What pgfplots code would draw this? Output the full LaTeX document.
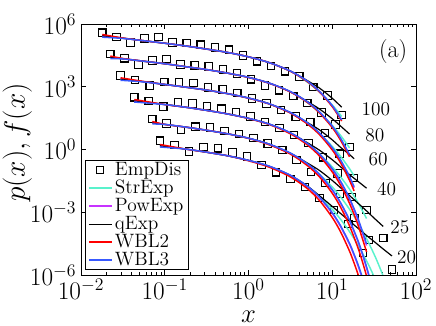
\RequirePackage{fix-cm}
\documentclass[border=0pt]{standalone}
\usepackage{pgfplots}
\pgfplotsset{compat=1.18}
\definecolor{cStr}{rgb}{0.35,0.95,0.8}
\definecolor{cPow}{rgb}{0.78,0.2,1}
\definecolor{cWtwo}{rgb}{1,0,0}
\definecolor{cWthree}{rgb}{0.22,0.35,1}
\pgfplotsset{
  table/lg/.style={x expr={10^(\thisrowno{0})}, y expr={10^(\thisrowno{1})}, row sep=\\},
  emp/.style={only marks, mark=square, mark size=2.8pt, mark options={line width=0.85pt, black}},
  fit/.style={line width=1.1pt, smooth, no marks},
}
\begin{document}
\begin{tikzpicture}
\begin{axis}[
  scale only axis, width=251.25pt, height=188.25pt,
  xmode=log, ymode=log,
  xmin=1e-2, xmax=1e2, ymin=1e-6, ymax=1e6,
  xtick={1e-2,1e-1,1,1e1,1e2},
  ytick={1e-6,1e-3,1,1e3,1e6},
  yminorticks=false,
  tick align=inside,
  major tick length=3.5pt, minor tick length=2pt,
  tick style={black, line width=0.5pt},
  axis line style={line width=0.7pt},
  ticklabel style={font=\fontsize{19}{19}\selectfont},
  xticklabel style={yshift=-1.5pt, inner ysep=1pt},
  xlabel={$x$}, ylabel={$p(x), f(x)$},
  every axis x label/.style={at={(axis description cs:0.5,-0.166)}, anchor=center, inner sep=0pt, font=\fontsize{20}{20}\selectfont},
  every axis y label/.style={at={(axis description cs:-0.19,0.528)}, anchor=center, rotate=90, font=\fontsize{22}{22}\selectfont},
  clip mode=individual,
  legend cell align=left,
  legend style={at={(rel axis cs:0.012,0.02)}, anchor=south west, draw=black, line width=0.6pt,
    fill=white, font=\fontsize{14.5}{14.5}\selectfont, inner xsep=2pt, inner ysep=0.5pt, row sep=0.3pt,
    nodes={inner xsep=2pt, inner ysep=0pt, text height=10.3pt, text depth=2.9pt}},
]
% empirical distributions
\addplot[emp] table[lg] {-1.746 5.58\\-1.578 5.38\\-1.410 5.11\\-1.242 5.32\\-1.074 5.37\\-0.906 5.12\\-0.738 5.09\\-0.570 5.01\\-0.402 4.88\\-0.234 4.77\\-0.066 4.49\\0.102 4.22\\0.270 3.99\\0.438 3.74\\0.606 3.49\\0.774 2.99\\0.942 2.58\\1.110 1.65\\};
\addlegendentry{EmpDis}
\addplot[emp, forget plot] table[lg] {-1.650 4.57\\-1.482 4.36\\-1.314 4.06\\-1.146 4.26\\-0.978 4.32\\-0.810 4.06\\-0.642 4.03\\-0.474 3.97\\-0.306 3.82\\-0.138 3.64\\0.030 3.36\\0.198 3.06\\0.366 2.83\\0.534 2.56\\0.702 2.22\\0.870 1.77\\1.038 1.20\\1.206 0.12\\};
\addplot[emp, forget plot] table[lg] {-1.528 3.54\\-1.354 3.33\\-1.179 3.05\\-1.005 3.22\\-0.831 3.21\\-0.656 3.17\\-0.482 2.96\\-0.308 2.87\\-0.134 2.70\\0.041 2.44\\0.215 2.20\\0.389 1.89\\0.564 1.58\\0.738 1.32\\0.912 0.79\\1.087 -0.20\\1.261 -1.36\\};
\addplot[emp, forget plot] table[lg] {-1.364 2.50\\-1.191 2.31\\-1.017 2.05\\-0.844 2.24\\-0.670 2.20\\-0.497 2.07\\-0.324 1.95\\-0.150 1.79\\0.023 1.58\\0.197 1.32\\0.370 1.03\\0.543 0.69\\0.717 0.31\\0.890 -0.37\\1.064 -1.14\\1.237 -2.28\\1.410 -2.89\\};
\addplot[emp, forget plot] table[lg] {-1.149 1.46\\-0.977 1.25\\-0.804 0.93\\-0.632 1.09\\-0.459 1.05\\-0.287 0.89\\-0.115 0.74\\0.058 0.55\\0.230 0.29\\0.403 -0.02\\0.575 -0.50\\0.747 -1.08\\0.920 -1.60\\1.092 -2.13\\1.265 -3.27\\1.437 -4.33\\1.609 -4.24\\};
\addplot[emp, forget plot] table[lg] {-1.057 0.42\\-0.884 0.22\\-0.711 -0.10\\-0.538 0.11\\-0.364 0.06\\-0.191 -0.15\\-0.018 -0.34\\0.155 -0.74\\0.328 -1.09\\0.501 -1.41\\0.674 -1.79\\0.847 -2.32\\1.020 -2.89\\1.193 -3.56\\1.367 -4.95\\1.713 -5.74\\};
% StrExp
\addplot[fit, cStr] table[lg] {-1.746 5.44\\-1.5 5.32\\-1.25 5.20\\-1.0 5.08\\-0.75 4.95\\-0.5 4.80\\-0.25 4.64\\0 4.43\\0.25 4.15\\0.5 3.75\\0.7 3.23\\0.85 2.74\\1.0 2.13\\1.113 1.58\\};
\addlegendentry{StrExp}
\addplot[fit, cStr, forget plot] table[lg] {-1.65 4.41\\-1.5 4.34\\-1.25 4.22\\-1.0 4.10\\-0.75 3.96\\-0.5 3.82\\-0.25 3.65\\0 3.45\\0.25 3.17\\0.5 2.76\\0.7 2.25\\0.85 1.75\\1.0 1.15\\1.1 0.67\\1.206 0.08\\};
\addplot[fit, cStr, forget plot] table[lg] {-1.528 3.37\\-1.25 3.24\\-1.0 3.11\\-0.75 2.98\\-0.5 2.84\\-0.25 2.67\\0 2.46\\0.25 2.18\\0.5 1.76\\0.7 1.25\\0.85 0.75\\1.0 0.15\\1.1 -0.33\\1.2 -0.88\\1.261 -1.26\\};
\addplot[fit, cStr, forget plot] table[lg] {-1.364 2.33\\-1.0 2.15\\-0.75 2.02\\-0.5 1.87\\-0.25 1.70\\0 1.49\\0.25 1.21\\0.5 0.79\\0.7 0.27\\0.85 -0.22\\1.0 -0.83\\1.1 -1.31\\1.2 -1.86\\1.3 -2.49\\1.41 -3.30\\};
\addplot[fit, cStr, forget plot] table[lg] {-1.149 1.28\\-1.0 1.20\\-0.75 1.07\\-0.5 0.92\\-0.25 0.75\\0 0.54\\0.25 0.25\\0.5 -0.18\\0.7 -0.69\\0.85 -1.19\\1.0 -1.79\\1.1 -2.27\\1.2 -2.82\\1.3 -3.45\\1.4 -4.18\\1.5 -5.01\\1.55 -5.47\\1.609 -6.06\\};
\addplot[fit, cStr, forget plot] table[lg] {-1.057 0.18\\-0.75 0.02\\-0.5 -0.13\\-0.25 -0.30\\0 -0.52\\0.25 -0.81\\0.5 -1.24\\0.7 -1.76\\0.85 -2.25\\1.0 -2.86\\1.1 -3.34\\1.2 -3.89\\1.3 -4.52\\1.4 -5.25\\1.45 -5.65\\1.5 -6.08\\1.55 -6.54\\};
% PowExp
\addplot[fit, cPow] table[lg] {-1.746 5.44\\-1.5 5.32\\-1.25 5.20\\-1.0 5.08\\-0.75 4.95\\-0.5 4.80\\-0.25 4.64\\0 4.43\\0.25 4.15\\0.5 3.75\\0.7 3.27\\0.85 2.76\\1.0 2.08\\1.113 1.40\\};
\addlegendentry{PowExp}
\addplot[fit, cPow, forget plot] table[lg] {-1.65 4.41\\-1.5 4.34\\-1.25 4.22\\-1.0 4.10\\-0.75 3.96\\-0.5 3.82\\-0.25 3.65\\0 3.45\\0.25 3.17\\0.5 2.76\\0.7 2.28\\0.85 1.78\\1.0 1.10\\1.1 0.51\\1.206 -0.27\\};
\addplot[fit, cPow, forget plot] table[lg] {-1.528 3.37\\-1.25 3.24\\-1.0 3.11\\-0.75 2.98\\-0.5 2.84\\-0.25 2.67\\0 2.46\\0.25 2.18\\0.5 1.76\\0.7 1.27\\0.85 0.76\\1.0 0.06\\1.1 -0.54\\1.2 -1.29\\1.261 -1.83\\};
\addplot[fit, cPow, forget plot] table[lg] {-1.364 2.33\\-1.0 2.15\\-0.75 2.02\\-0.5 1.87\\-0.25 1.70\\0 1.49\\0.25 1.21\\0.5 0.79\\0.7 0.29\\0.85 -0.24\\1.0 -0.95\\1.1 -1.56\\1.2 -2.33\\1.3 -3.28\\1.41 -4.59\\};
\addplot[fit, cPow, forget plot] table[lg] {-1.149 1.28\\-1.0 1.20\\-0.75 1.07\\-0.5 0.92\\-0.25 0.75\\0 0.54\\0.25 0.25\\0.5 -0.18\\0.7 -0.68\\0.85 -1.22\\1.0 -1.94\\1.1 -2.57\\1.2 -3.35\\1.3 -4.32\\1.35 -4.89\\1.4 -5.53\\1.45 -6.24\\1.5 -7.04\\};
\addplot[fit, cPow, forget plot] table[lg] {-1.057 0.18\\-0.75 0.02\\-0.5 -0.13\\-0.25 -0.30\\0 -0.52\\0.25 -0.81\\0.5 -1.24\\0.7 -1.76\\0.85 -2.31\\1.0 -3.05\\1.1 -3.69\\1.2 -4.48\\1.25 -4.95\\1.3 -5.47\\1.35 -6.06\\1.4 -6.71\\};
% qExp
\addplot[fit, black, line width=0.9pt] table[lg] {-1.746 5.44\\-1.5 5.32\\-1.25 5.20\\-1.0 5.08\\-0.75 4.95\\-0.5 4.80\\-0.25 4.64\\0 4.43\\0.25 4.15\\0.5 3.75\\0.7 3.30\\0.85 2.93\\1.0 2.45\\1.113 2.02\\};
\addlegendentry{qExp}
\addplot[fit, black, line width=0.9pt, forget plot] table[lg] {-1.65 4.41\\-1.5 4.34\\-1.25 4.22\\-1.0 4.10\\-0.75 3.96\\-0.5 3.82\\-0.25 3.65\\0 3.45\\0.25 3.17\\0.5 2.76\\0.7 2.30\\0.85 1.93\\1.0 1.47\\1.1 1.12\\1.206 0.74\\};
\addplot[fit, black, line width=0.9pt, forget plot] table[lg] {-1.528 3.37\\-1.25 3.24\\-1.0 3.11\\-0.75 2.98\\-0.5 2.84\\-0.25 2.67\\0 2.46\\0.25 2.18\\0.5 1.76\\0.7 1.30\\0.85 0.93\\1.0 0.46\\1.1 0.10\\1.2 -0.22\\1.261 -0.44\\};
\addplot[fit, black, line width=0.9pt, forget plot] table[lg] {-1.364 2.33\\-1.0 2.15\\-0.75 2.02\\-0.5 1.87\\-0.25 1.70\\0 1.49\\0.25 1.21\\0.5 0.79\\0.7 0.33\\0.85 -0.04\\1.0 -0.49\\1.1 -0.83\\1.2 -1.18\\1.3 -1.50\\1.41 -1.85\\};
\addplot[fit, black, line width=0.9pt, forget plot] table[lg] {-1.149 1.28\\-1.0 1.20\\-0.75 1.07\\-0.5 0.92\\-0.25 0.75\\0 0.54\\0.25 0.25\\0.5 -0.18\\0.7 -0.64\\0.85 -1.01\\1.0 -1.48\\1.1 -1.83\\1.2 -2.18\\1.3 -2.54\\1.4 -2.90\\1.5 -3.28\\1.609 -3.68\\};
\addplot[fit, black, line width=0.9pt, forget plot] table[lg] {-1.057 0.18\\-0.75 0.02\\-0.5 -0.13\\-0.25 -0.30\\0 -0.52\\0.25 -0.81\\0.5 -1.24\\0.7 -1.74\\0.85 -2.22\\1.0 -2.72\\1.1 -3.06\\1.2 -3.40\\1.3 -3.74\\1.4 -4.08\\1.5 -4.40\\1.6 -4.73\\1.713 -5.09\\};
% WBL2
\addplot[fit, cWtwo] table[lg] {-1.746 5.50\\-1.5 5.33\\-1.25 5.20\\-1.0 5.08\\-0.75 4.95\\-0.5 4.80\\-0.25 4.64\\0 4.43\\0.25 4.15\\0.5 3.74\\0.7 3.25\\0.85 2.74\\1.0 2.05\\1.113 1.36\\};
\addlegendentry{WBL2}
\addplot[fit, cWtwo, forget plot] table[lg] {-1.65 4.47\\-1.5 4.35\\-1.25 4.22\\-1.0 4.10\\-0.75 3.96\\-0.5 3.82\\-0.25 3.65\\0 3.44\\0.25 3.16\\0.5 2.75\\0.7 2.26\\0.85 1.74\\1.0 1.05\\1.1 0.44\\1.206 -0.35\\};
\addplot[fit, cWtwo, forget plot] table[lg] {-1.528 3.43\\-1.25 3.25\\-1.0 3.11\\-0.75 2.98\\-0.5 2.84\\-0.25 2.67\\0 2.45\\0.25 2.17\\0.5 1.74\\0.7 1.23\\0.85 0.70\\1.0 -0.02\\1.1 -0.64\\1.2 -1.42\\1.261 -1.98\\};
\addplot[fit, cWtwo, forget plot] table[lg] {-1.364 2.39\\-1.0 2.15\\-0.75 2.02\\-0.5 1.87\\-0.25 1.70\\0 1.48\\0.25 1.19\\0.5 0.75\\0.7 0.23\\0.85 -0.32\\1.0 -1.07\\1.1 -1.71\\1.2 -2.52\\1.3 -3.52\\1.41 -4.90\\};
\addplot[fit, cWtwo, forget plot] table[lg] {-1.149 1.34\\-1.0 1.20\\-0.75 1.07\\-0.5 0.92\\-0.25 0.75\\0 0.53\\0.25 0.22\\0.5 -0.22\\0.7 -0.76\\0.85 -1.32\\1.0 -2.09\\1.1 -2.76\\1.2 -3.59\\1.3 -4.62\\1.35 -5.23\\1.4 -5.91\\1.45 -6.66\\};
\addplot[fit, cWtwo, forget plot] table[lg] {-1.057 0.24\\-0.75 0.02\\-0.5 -0.13\\-0.25 -0.30\\0 -0.54\\0.25 -0.85\\0.5 -1.31\\0.7 -1.86\\0.85 -2.45\\1.0 -3.25\\1.1 -3.94\\1.2 -4.80\\1.25 -5.31\\1.3 -5.87\\1.35 -6.51\\};
% WBL3
\addplot[fit, cWthree] table[lg] {-1.746 5.37\\-1.5 5.31\\-1.25 5.20\\-1.0 5.08\\-0.75 4.95\\-0.5 4.80\\-0.25 4.64\\0 4.43\\0.25 4.15\\0.5 3.75\\0.7 3.28\\0.85 2.77\\1.0 2.10\\1.113 1.42\\};
\addlegendentry{WBL3}
\addplot[fit, cWthree, forget plot] table[lg] {-1.65 4.35\\-1.5 4.33\\-1.25 4.22\\-1.0 4.10\\-0.75 3.96\\-0.5 3.82\\-0.25 3.65\\0 3.45\\0.25 3.17\\0.5 2.77\\0.7 2.29\\0.85 1.79\\1.0 1.12\\1.1 0.53\\1.206 -0.24\\};
\addplot[fit, cWthree, forget plot] table[lg] {-1.528 3.31\\-1.25 3.23\\-1.0 3.11\\-0.75 2.98\\-0.5 2.84\\-0.25 2.67\\0 2.46\\0.25 2.18\\0.5 1.77\\0.7 1.29\\0.85 0.78\\1.0 0.09\\1.1 -0.50\\1.2 -1.24\\1.261 -1.78\\};
\addplot[fit, cWthree, forget plot] table[lg] {-1.364 2.27\\-1.0 2.15\\-0.75 2.02\\-0.5 1.87\\-0.25 1.70\\0 1.49\\0.25 1.21\\0.5 0.80\\0.7 0.30\\0.85 -0.22\\1.0 -0.92\\1.1 -1.52\\1.2 -2.28\\1.3 -3.22\\1.41 -4.51\\};
\addplot[fit, cWthree, forget plot] table[lg] {-1.149 1.22\\-1.0 1.20\\-0.75 1.07\\-0.5 0.92\\-0.25 0.75\\0 0.54\\0.25 0.25\\0.5 -0.17\\0.7 -0.67\\0.85 -1.20\\1.0 -1.92\\1.1 -2.55\\1.2 -3.32\\1.3 -4.28\\1.35 -4.85\\1.4 -5.48\\1.45 -6.18\\1.5 -6.98\\};
\addplot[fit, cWthree, forget plot] table[lg] {-1.057 0.12\\-0.75 0.02\\-0.5 -0.13\\-0.25 -0.30\\0 -0.52\\0.25 -0.80\\0.5 -1.23\\0.7 -1.74\\0.85 -2.29\\1.0 -3.02\\1.1 -3.65\\1.2 -4.43\\1.25 -4.90\\1.3 -5.41\\1.35 -5.99\\1.4 -6.63\\};
% annotations
\node[font=\fontsize{18}{18}\selectfont, inner sep=0pt] at (rel axis cs:0.932,0.890) {(a)};
\node[font=\fontsize{14.5}{14.5}\selectfont, inner sep=0pt] at (rel axis cs:0.880,0.662) {100};
\node[font=\fontsize{14.5}{14.5}\selectfont, inner sep=0pt] at (rel axis cs:0.877,0.558) {80};
\node[font=\fontsize{14.5}{14.5}\selectfont, inner sep=0pt] at (rel axis cs:0.887,0.463) {60};
\node[font=\fontsize{14.5}{14.5}\selectfont, inner sep=0pt] at (rel axis cs:0.9125,0.340) {40};
\node[font=\fontsize{14.5}{14.5}\selectfont, inner sep=0pt] at (rel axis cs:0.952,0.190) {25};
\node[font=\fontsize{14.5}{14.5}\selectfont, inner sep=0pt] at (rel axis cs:0.972,0.070) {20};
\coordinate (BL) at (rel axis cs:0,0);
\coordinate (TR) at (rel axis cs:1,1);
\end{axis}
\pgfresetboundingbox
\path[use as bounding box] ([shift={(-60.75pt,-38.25pt)}]BL) rectangle ([shift={(15pt,18pt)}]TR);
\end{tikzpicture}
\end{document}
